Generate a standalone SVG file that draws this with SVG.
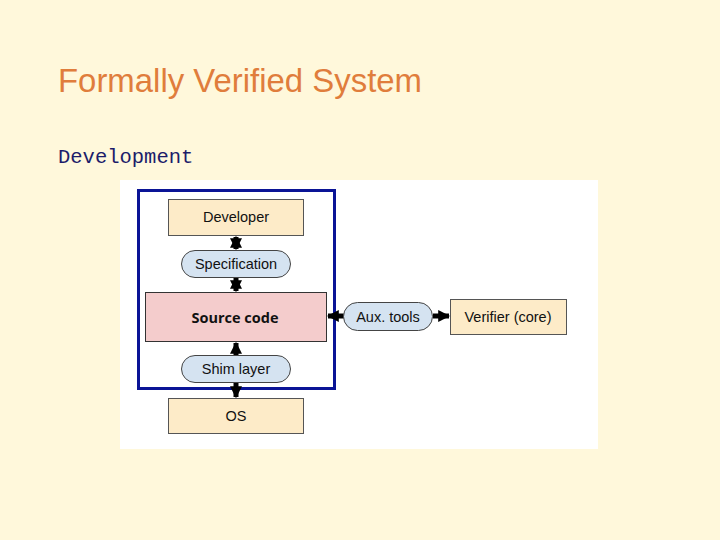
<svg xmlns="http://www.w3.org/2000/svg" width="720" height="540" viewBox="0 0 720 540">
<style>
.box{stroke:#555;stroke-width:1}
.pill{fill:#D5E3F1;stroke:#444;stroke-width:1}
.lbl{font-family:"Liberation Sans",Arial,sans-serif;font-size:14.5px;fill:#111;text-anchor:middle;dominant-baseline:central}
.conn{stroke:#000;stroke-width:5;fill:none}
</style>
<defs>
<marker id="ah" viewBox="0 0 10 10" refX="9" refY="5" markerWidth="2.4" markerHeight="2.6" orient="auto-start-reverse" markerUnits="strokeWidth">
<path d="M0,0 L10,5 L0,10 z" fill="#000"/>
</marker>
</defs>
<rect width="720" height="540" fill="#FFF8DB"/>
<text x="58" y="92" font-family="'Liberation Sans',Arial,sans-serif" font-size="32.5" fill="#E07D3C" textLength="364" lengthAdjust="spacingAndGlyphs">Formally Verified System</text>
<text x="58" y="163" font-family="'Liberation Mono','Courier New',monospace" font-size="20.5" fill="#1C1C6A">Development</text>
<rect x="120" y="180" width="478" height="269" fill="#FFFFFF"/>
<rect x="138.5" y="190.5" width="196" height="198" fill="none" stroke="#0A1496" stroke-width="3"/>
<g id="connectors">
<line class="conn" x1="236" y1="237" x2="236" y2="249" marker-start="url(#ah)" marker-end="url(#ah)"/>
<line class="conn" x1="236" y1="278" x2="236" y2="291" marker-start="url(#ah)" marker-end="url(#ah)"/>
<line class="conn" x1="236" y1="355" x2="236" y2="343" marker-end="url(#ah)"/>
<line class="conn" x1="236" y1="383" x2="236" y2="397" marker-end="url(#ah)"/>
<line class="conn" x1="344" y1="316" x2="328" y2="316" marker-end="url(#ah)"/>
<line class="conn" x1="433" y1="316" x2="449" y2="316" marker-end="url(#ah)"/>
</g>
<g id="developer">
<rect class="box" x="168.5" y="199.5" width="135" height="36" fill="#FDEBC8"/>
<text class="lbl" x="236" y="217">Developer</text>
</g>
<g id="specification">
<rect class="pill" x="181.5" y="250.5" width="109" height="27" rx="13.5"/>
<text class="lbl" x="236" y="264">Specification</text>
</g>
<g id="source-code">
<rect x="145.5" y="292.5" width="181" height="49" fill="#F4CCCC" stroke="#333" stroke-width="1"/>
<text x="235" y="317" font-family="'Open Sans','Liberation Sans',sans-serif" font-weight="bold" font-size="14.5" fill="#111" text-anchor="middle" dominant-baseline="central">Source code</text>
</g>
<g id="shim-layer">
<rect class="pill" x="181.5" y="355.5" width="109" height="27" rx="13.5"/>
<text class="lbl" x="236" y="369">Shim layer</text>
</g>
<g id="os">
<rect class="box" x="168.5" y="398.5" width="135" height="35" fill="#FDEBC8"/>
<text class="lbl" x="236" y="416">OS</text>
</g>
<g id="aux-tools">
<rect class="pill" x="343.5" y="302.5" width="89" height="28" rx="14"/>
<text class="lbl" x="388" y="316.5">Aux. tools</text>
</g>
<g id="verifier">
<rect class="box" x="450.5" y="299.5" width="116" height="35" fill="#FDEBC8"/>
<text class="lbl" x="508" y="317">Verifier (core)</text>
</g>
</svg>
